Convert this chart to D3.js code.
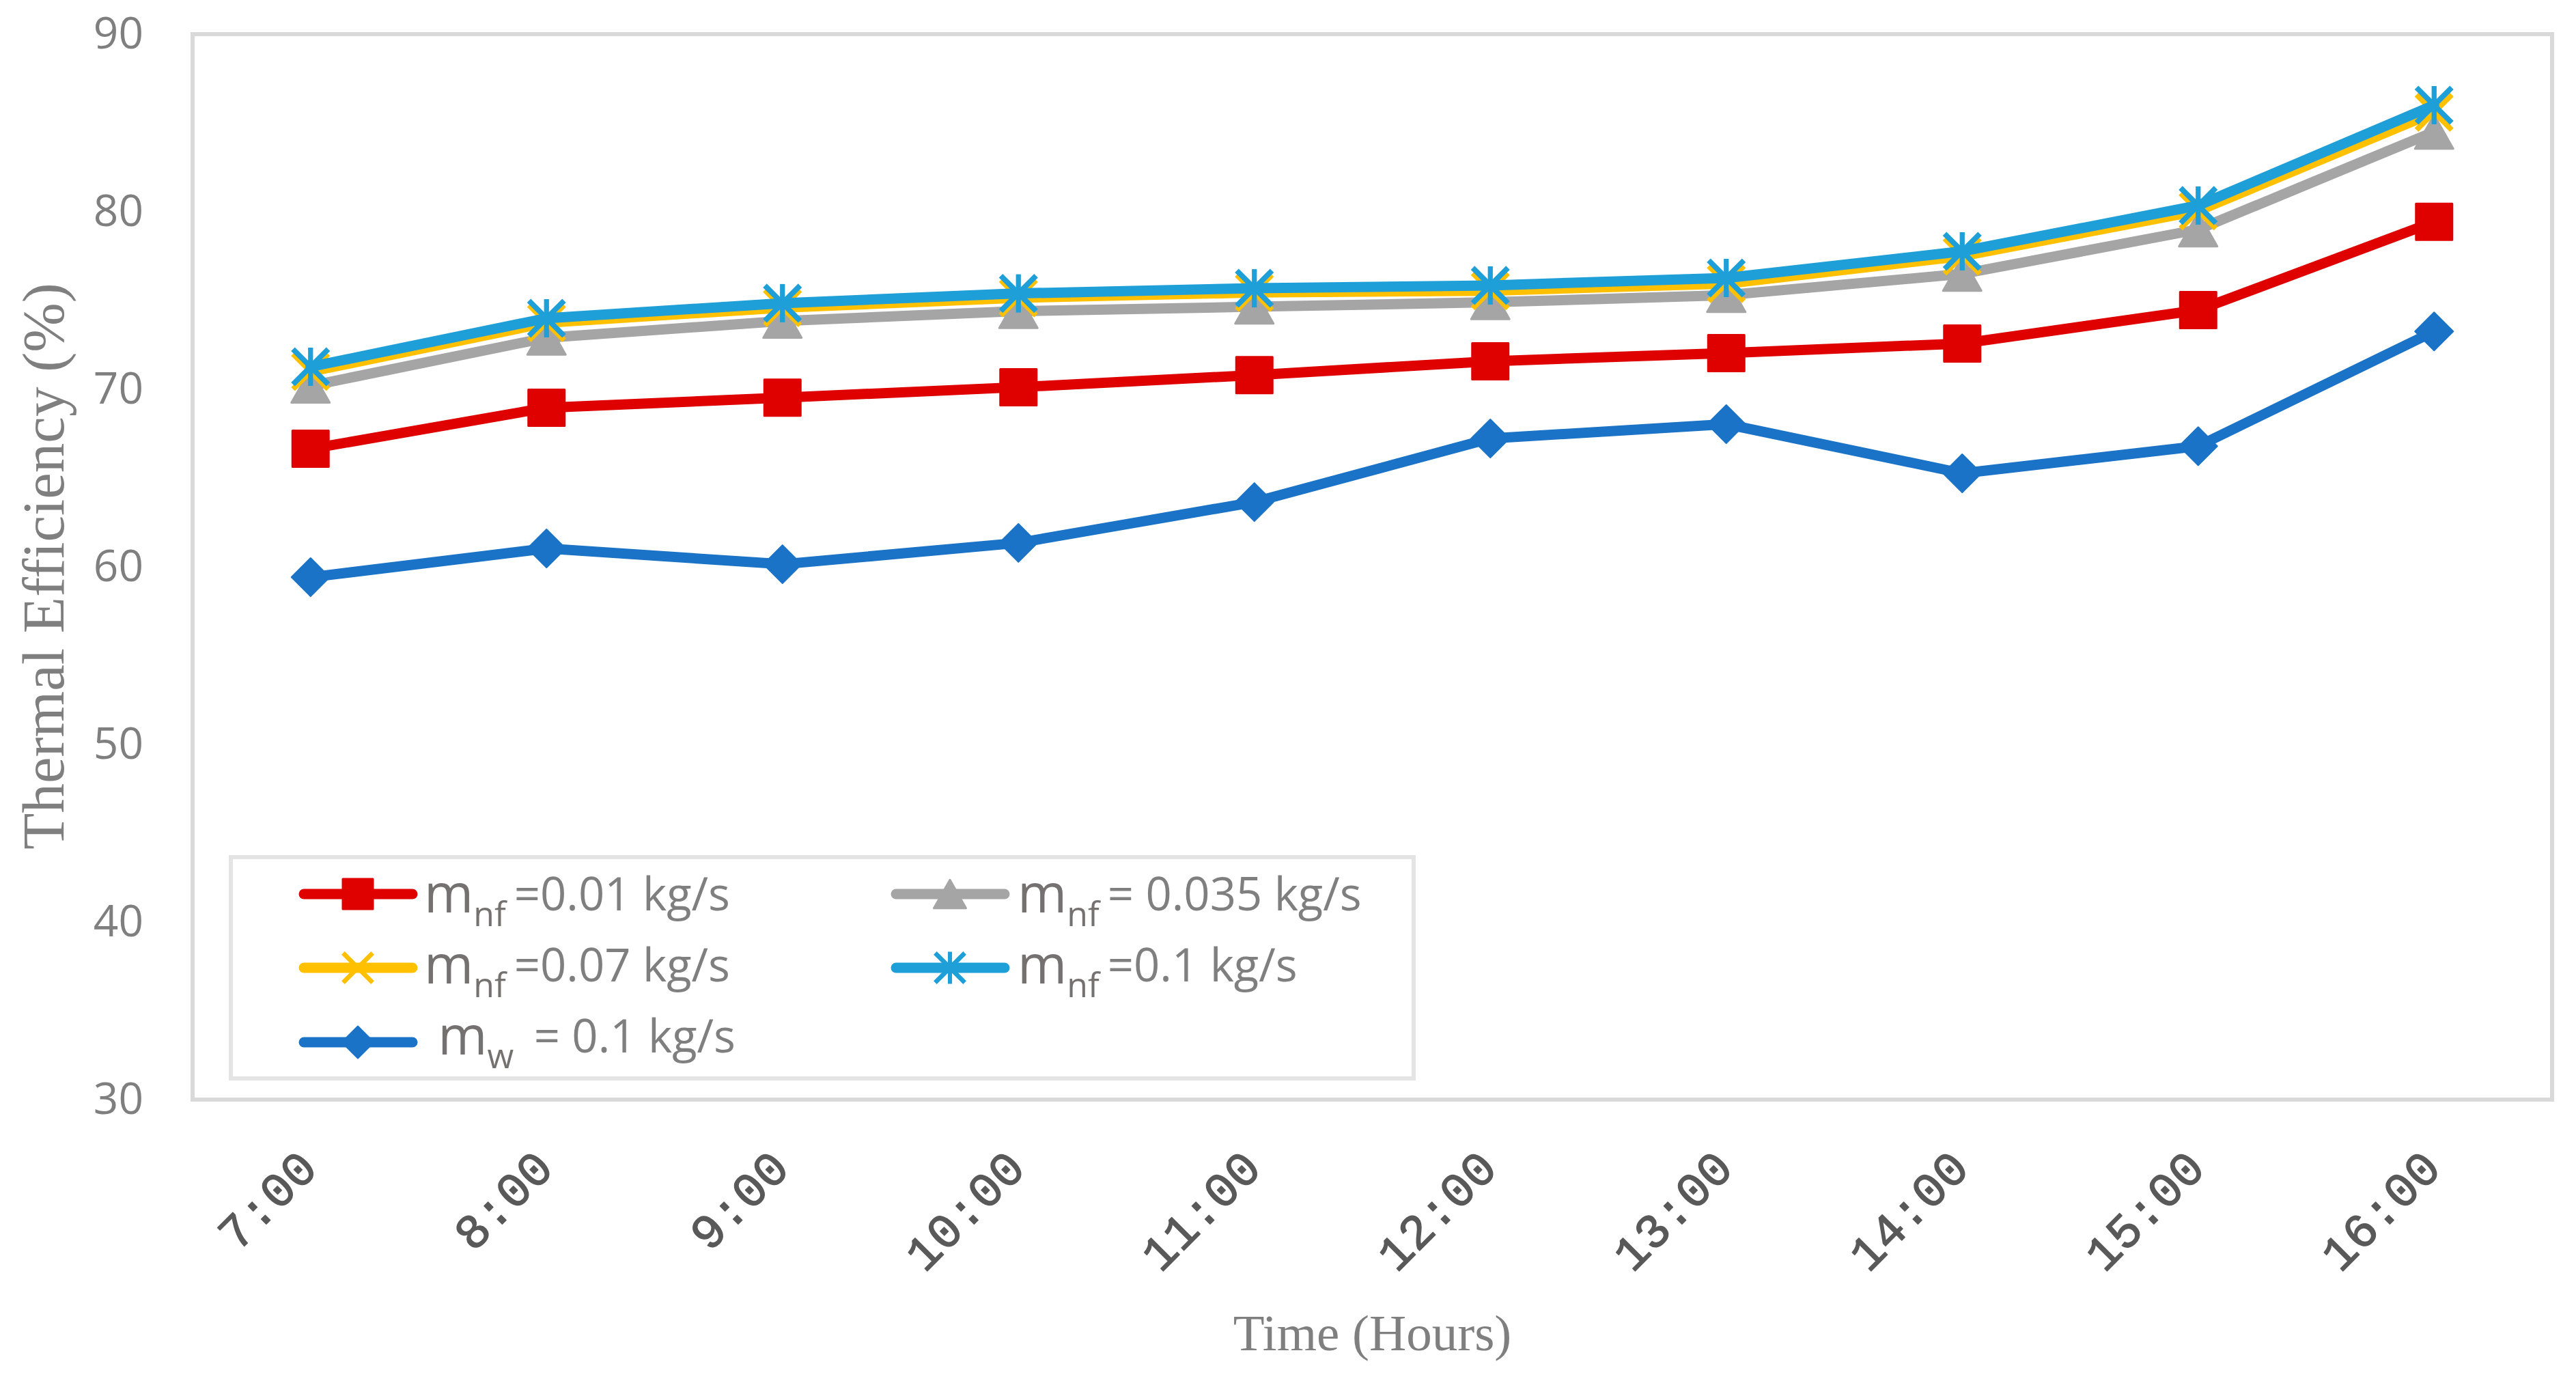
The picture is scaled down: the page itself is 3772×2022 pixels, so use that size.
<!DOCTYPE html>
<html>
<head>
<meta charset="utf-8">
<script src="https://cdn.jsdelivr.net/npm/d3@7"></script>
<style>
  html, body { margin: 0; padding: 0; background: #ffffff; }
  svg { display: block; }
  text { white-space: pre; }
</style>
</head>
<body>
<svg id="chart" width="3772" height="2022"></svg>
<script>
// ---------------- data ----------------
const categories = ["7:00", "8:00", "9:00", "10:00", "11:00", "12:00", "13:00", "14:00", "15:00", "16:00"];
const yTickValues = [30, 40, 50, 60, 70, 80, 90];

const seriesNames = ["mnf=0.01", "mnf=0.035", "mnf=0.07", "mnf=0.1", "mw=0.1"];
const nf001 = [66.65, 68.96, 69.53, 70.12, 70.8, 71.58, 72.04, 72.58, 74.46, 79.43];
const nf0035 = [70.2, 72.9, 73.85, 74.4, 74.65, 74.9, 75.3, 76.5, 79.0, 84.5];
const nf007 = [71.0, 73.75, 74.6, 75.15, 75.45, 75.55, 75.95, 77.5, 80.05, 85.6];
const nf01 = [71.27, 74.0, 74.85, 75.4, 75.69, 75.85, 76.27, 77.77, 80.35, 86.0];
const water01 = [59.42, 61.04, 60.15, 61.35, 63.65, 67.23, 68.04, 65.27, 66.8, 73.26];

const legendMain = ["m", "m", "m", "m", " m"];
const legendSub = ["nf", "nf", "nf", "nf", "w"];
const legendRest = ["=0.01 kg/s", "= 0.035 kg/s", "=0.07 kg/s", "=0.1 kg/s", " = 0.1 kg/s"];

const xTitle = "Time (Hours)";
const yTitle = "Thermal Efficiency (%)";

// ---------------- styling ----------------
const seriesValues = [nf001, nf0035, nf007, nf01, water01];
const seriesColors = ["#DF0000", "#A5A5A5", "#FFC000", "#1F9FD8", "#1A73C7"];
const seriesMarkers = ["square", "triangle", "x", "star", "diamond"];

const W = 3772, H = 2022;
const plot = { left: 282, right: 3737, top: 50, bottom: 1610 };

const svg = d3.select("#chart");
svg.append("rect").attr("width", W).attr("height", H).attr("fill", "#fff");

const x = d3.scalePoint().domain(categories).range([plot.left, plot.right]).padding(0.5);
const y = d3.scaleLinear().domain([30, 90]).range([plot.bottom, plot.top]);

// plot frame
svg.append("rect")
  .attr("x", plot.left).attr("y", plot.top)
  .attr("width", plot.right - plot.left).attr("height", plot.bottom - plot.top)
  .attr("fill", "none").attr("stroke", "#D9D9D9").attr("stroke-width", 6);

// y axis
const yAxis = svg.append("g")
  .attr("transform", `translate(${plot.left},0)`)
  .call(d3.axisLeft(y).tickValues(yTickValues).tickSize(0).tickPadding(72).tickFormat(d3.format("d")));
yAxis.select(".domain").remove();
yAxis.selectAll("text")
  .attr("font-family", "'Open Sans', 'Liberation Sans', sans-serif")
  .attr("font-size", 64).attr("fill", "#7F7F7F");

// x axis
const xAxis = svg.append("g")
  .attr("transform", `translate(0,${plot.bottom})`)
  .call(d3.axisBottom(x).tickSize(0));
xAxis.select(".domain").remove();
xAxis.selectAll("text")
  .attr("x", 0).attr("y", 0).attr("dy", 0)
  .attr("text-anchor", "end")
  .attr("transform", "translate(13,104) rotate(-45)")
  .attr("font-family", "'Liberation Mono', 'DejaVu Sans Mono', monospace")
  .attr("font-size", 71).attr("fill", "#595959")
  .attr("stroke", "#595959").attr("stroke-width", 1.4).attr("stroke-linejoin", "round");

// axis titles
svg.append("text")
  .attr("transform", "translate(93,829) rotate(-90)")
  .attr("text-anchor", "middle")
  .attr("font-family", "'Liberation Serif', 'Times New Roman', serif")
  .attr("font-size", 87).attr("fill", "#7F7F7F")
  .text(yTitle);
svg.append("text")
  .attr("x", (plot.left + plot.right) / 2).attr("y", 1977)
  .attr("text-anchor", "middle")
  .attr("font-family", "'Liberation Serif', 'Times New Roman', serif")
  .attr("font-size", 75).attr("fill", "#7F7F7F")
  .text(xTitle);

// marker drawing
function drawMarker(g, type, color, s) {
  const h = s / 2;
  if (type === "square") {
    g.append("rect").attr("x", -h + 1.5).attr("y", -h + 1.5).attr("width", s - 3).attr("height", s - 3)
      .attr("fill", color).attr("stroke", color).attr("stroke-width", 3).attr("stroke-linejoin", "round");
  } else if (type === "triangle") {
    const th = s * 0.88;
    g.append("path").attr("d", `M0,${-th / 2}L${h},${th / 2}L${-h},${th / 2}Z`)
      .attr("fill", color).attr("stroke", color).attr("stroke-width", 3).attr("stroke-linejoin", "round");
  } else if (type === "diamond") {
    g.append("path").attr("d", `M0,${-h}L${h},0L0,${h}L${-h},0Z`)
      .attr("fill", color).attr("stroke", color).attr("stroke-width", 2).attr("stroke-linejoin", "round");
  } else if (type === "x" || type === "star") {
    const a = h * 0.92;
    g.append("path").attr("d", `M${-a},${-a}L${a},${a}M${-a},${a}L${a},${-a}`)
      .attr("stroke", color).attr("stroke-width", s * 0.14).attr("fill", "none");
    if (type === "star") {
      g.append("path").attr("d", `M0,${-h}L0,${h}`)
        .attr("stroke", color).attr("stroke-width", s * 0.13).attr("fill", "none");
    }
  }
}

// series
const line = d3.line().x((d, i) => x(categories[i])).y(d => y(d)).curve(d3.curveLinear);
seriesValues.forEach((vals, si) => {
  const g = svg.append("g").attr("class", "series");
  g.append("path").datum(vals)
    .attr("d", line)
    .attr("fill", "none").attr("stroke", seriesColors[si])
    .attr("stroke-width", 15).attr("stroke-linejoin", "round").attr("stroke-linecap", "round");
  vals.forEach((v, i) => {
    const mg = g.append("g").attr("transform", `translate(${x(categories[i])},${y(v)})`);
    drawMarker(mg, seriesMarkers[si], seriesColors[si], 56);
  });
});

// legend
const legend = svg.append("g");
legend.append("rect")
  .attr("x", 338).attr("y", 1255).attr("width", 1732).attr("height", 324)
  .attr("fill", "#fff").attr("stroke", "#E4E4E4").attr("stroke-width", 6);

const legColX = [437, 1304];
const legLineY = [1309, 1417, 1526];
const legTextY = [1336, 1440, 1544];
seriesNames.forEach((name, i) => {
  const col = i % 2, row = Math.floor(i / 2);
  const x0 = legColX[col], ly = legLineY[row];
  const g = legend.append("g");
  g.append("line").attr("x1", x0 + 8).attr("x2", x0 + 167).attr("y1", ly).attr("y2", ly)
    .attr("stroke", seriesColors[i]).attr("stroke-width", 15).attr("stroke-linecap", "round");
  const mg = g.append("g").attr("transform", `translate(${x0 + 87},${ly})`);
  drawMarker(mg, seriesMarkers[i], seriesColors[i], 47);
  const t = g.append("text")
    .attr("x", x0 + 184 + (col ? 2 : 0)).attr("y", legTextY[row])
    .attr("font-family", "'Open Sans', 'Liberation Sans', sans-serif");
  t.append("tspan").attr("font-size", 78).attr("fill", "#767171").text(legendMain[i]);
  t.append("tspan").attr("font-size", 50).attr("fill", "#767171").attr("dy", 20).text(legendSub[i]);
  t.append("tspan").attr("font-size", 67).attr("fill", "#7F7F7F").attr("dy", -23).attr("dx", 12).text(legendRest[i]);
});
</script>
</body>
</html>
